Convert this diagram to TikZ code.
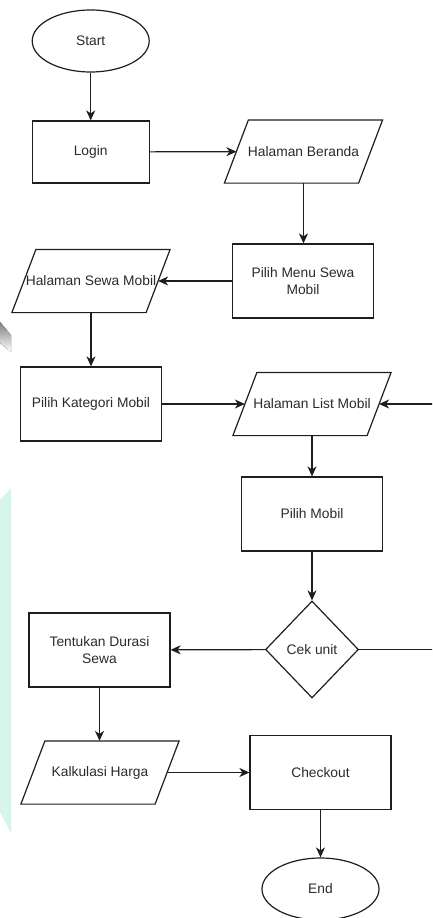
\documentclass[tikz,border=0pt]{standalone}
\usepackage{fontspec}
\setmainfont{Liberation Sans}
\usetikzlibrary{shapes.geometric,arrows.meta}

\definecolor{inkline}{HTML}{1E1E1E}
\definecolor{inktext}{HTML}{2A2A2A}
\definecolor{mint}{HTML}{D6F5EC}
\definecolor{shade}{HTML}{E3E3E3}

% zero-width box so that long labels do not widen their shape
\newcommand{\nowide}[1]{\makebox[0pt]{#1}}

\tikzset{
  base/.style={draw=inkline, line width=1.2pt, text=inktext, inner sep=0pt,
               font=\fontsize{13.8}{17}\selectfont, align=center},
  terminal/.style={base, ellipse, minimum width=117pt, minimum height=62pt},
  process/.style={base, rectangle, minimum width=141pt, minimum height=74pt},
  smallproc/.style={base, rectangle, minimum width=117pt, minimum height=62pt},
  % data box: the node spans the mid-height width, its slanted outline is drawn round it
  io/.style={base, draw=none, rectangle, minimum width=133pt, minimum height=62pt,
    append after command={\pgfextra{\let\ionode\tikzlastnode
      \draw[draw=inkline, line width=1.2pt, line join=miter]
        ([xshift=12pt]\ionode.north west) -- ([xshift=12pt]\ionode.north east)
        -- ([xshift=-12pt]\ionode.south east) -- ([xshift=-12pt]\ionode.south west)
        -- cycle;}}},
  decision/.style={base, diamond, minimum width=93pt, minimum height=97pt},
  flow/.style={draw=inkline, line width=1.2pt,
               -{Stealth[length=10pt,width=9pt,inset=3pt]}}
}

\begin{document}
\begin{tikzpicture}[x=1pt,y=-1pt]
  \useasboundingbox (0,0) rectangle (432,918);
  \clip (0,0) rectangle (432,918);

  % faint background marks along the left edge
  \fill[mint] (0,500) -- (11,488) -- (11,833) -- (0,812) -- cycle;
  \fill[shade] (0,322) -- (11,335) -- (11,352) -- (0,343) -- cycle;

  % nodes
  \node[terminal]  (start)    at (90.7,41)    {Start};
  \node[smallproc] (login)    at (90.7,152)   {Login};
  \node[io]        (beranda)  at (303.5,151.5){\nowide{Halaman Beranda}};
  \node[process]   (menu)     at (303,281)    {Pilih Menu Sewa\\Mobil};
  \node[io]        (sewa)     at (91,281)     {\nowide{Halaman Sewa Mobil}};
  \node[process]   (kategori) at (91,404)     {Pilih Kategori Mobil};
  \node[io]        (list)     at (312,404)    {\nowide{Halaman List Mobil}};
  \node[process]   (mobil)    at (312,514)    {Pilih Mobil};
  \node[decision]  (cek)      at (312,649.5)  {\nowide{Cek unit}};
  \node[process]   (durasi)   at (99.5,650)   {Tentukan Durasi\\Sewa};
  \node[io]        (harga)    at (100,772.5)  {\nowide{Kalkulasi Harga}};
  \node[process]   (checkout) at (320.5,772.5){Checkout};
  \node[terminal]  (end)      at (320.5,889)  {End};

  \coordinate (loop) at (445,649.5);

  % connectors
  \draw[flow] (start) -- (login);
  \draw[flow] (login) -- (beranda);
  \draw[flow] (beranda.south) -- (beranda.south |- menu.north);
  \draw[flow] (menu) -- (sewa);
  \draw[flow] (sewa) -- (kategori);
  \draw[flow] (kategori) -- (list);
  \draw[flow] (list) -- (mobil);
  \draw[flow] (mobil) -- (cek);
  \draw[flow] (cek) -- (durasi);
  \draw[flow] (cek.east) -- (loop) |- (list.east);
  \draw[flow] (durasi.south) -- (durasi.south |- harga.north);
  \draw[flow] (harga) -- (checkout);
  \draw[flow] (checkout) -- (end);
\end{tikzpicture}
\end{document}
